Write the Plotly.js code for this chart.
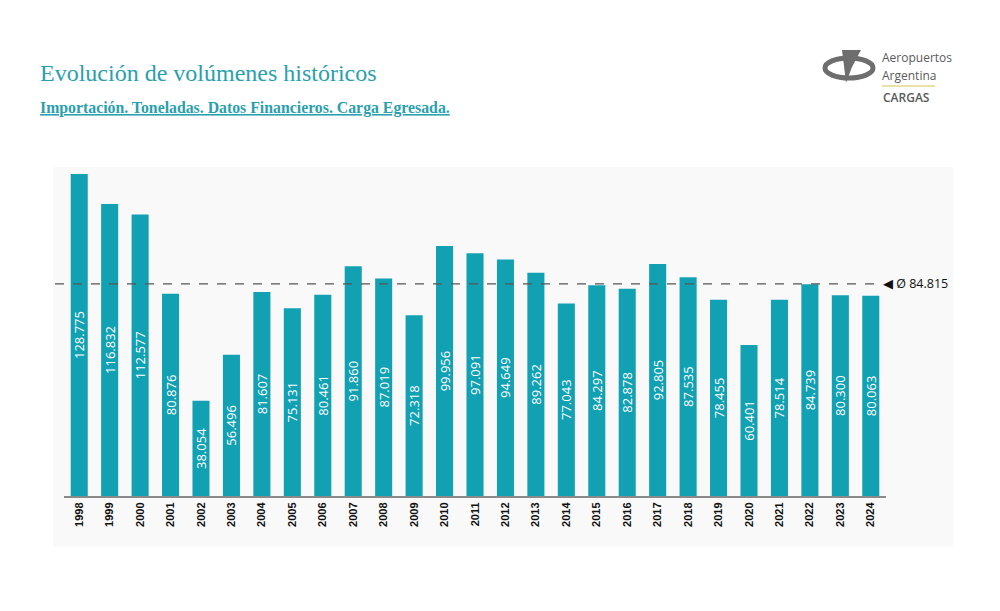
<!DOCTYPE html>
<html>
<head>
<meta charset="utf-8">
<script src="https://cdn.plot.ly/plotly-3.0.1.min.js"></script>
<style>html,body{margin:0;padding:0;background:#fff;}#chart{width:1000px;height:611px;}</style>
</head>
<body>
<div id="chart"></div>
<script>
const years = ['1998','1999','2000','2001','2002','2003','2004','2005','2006','2007','2008','2009','2010','2011','2012','2013','2014','2015','2016','2017','2018','2019','2020','2021','2022','2023','2024'];
const tonnes = [128775,116832,112577,80876,38054,56496,81607,75131,80461,91860,87019,72318,99956,97091,94649,89262,77043,84297,82878,92805,87535,78455,60401,78514,84739,80300,80063];
const titleText = 'Evolución de volúmenes históricos';
const subtitleText = 'Importación. Toneladas. Datos Financieros. Carga Egresada.';

const avg = tonnes.reduce((a,b)=>a+b,0)/tonnes.length;
const avgLabel = '◀ Ø ' + Math.round(avg).toString().replace(/\B(?=(\d{3})+(?!\d))/g,'.');

// pixel -> paper helpers for decorations
const L=64, R=886, T=171, B=496;
const px = x => (x-L)/(R-L);
const py = y => (B-y)/(B-T);

const teal = '#12a0b3';

const trace = {
  type:'bar', x: years, y: tonnes,
  marker:{color: teal, line:{width:0}},
  text: tonnes, texttemplate:'%{y:,.0f}',
  textposition:'inside', insidetextanchor:'middle', textangle:-90,
  insidetextfont:{family:'Open Sans, sans-serif', size:13, color:'#ffffff'},
  hoverinfo:'x+y', cliponaxis:false
};

const layout = {
  width:1000, height:611,
  margin:{l:L, r:1000-R, t:T, b:611-B},
  paper_bgcolor:'#ffffff', plot_bgcolor:'rgba(0,0,0,0)',
  separators:',.',
  bargap:0.44,
  uniformtext:{minsize:13, mode:'show'},
  showlegend:false,
  xaxis:{type:'category', showgrid:false, showline:true, linecolor:'#8a8a8a', linewidth:2,
    tickangle:-90, ticks:'', tickfont:{family:'Liberation Sans, Arial, sans-serif', size:11, color:'#111', weight:'bold'},
    range:[-0.5, years.length-0.5], fixedrange:true},
  yaxis:{visible:false, range:[0,130000], showgrid:false, zeroline:false, fixedrange:true},
  shapes:[
    {type:'rect', xref:'paper', yref:'paper', x0:px(53), x1:px(953), y0:py(547), y1:py(167),
      fillcolor:'#f9f9f9', line:{width:0}, layer:'below'},
    {type:'line', xref:'paper', yref:'y', x0:px(55), x1:px(880), y0:avg, y1:avg,
      line:{color:'#555555', width:1.3, dash:'dash'}, layer:'above'},
    // logo ring
    {type:'circle', xref:'paper', yref:'paper', x0:px(825), x1:px(873), y0:py(78), y1:py(58),
      line:{color:'#6e6e6e', width:5}, fillcolor:'rgba(0,0,0,0)'},
    // logo bolt
    {type:'path', xref:'paper', yref:'paper',
      path:'M '+px(842)+' '+py(50)+' L '+px(861)+' '+py(50)+' L '+px(852)+' '+py(67)+' L '+px(846)+' '+py(83)+' L '+px(844)+' '+py(66)+' Z',
      fillcolor:'#6e6e6e', line:{width:0}},
    {type:'line', xref:'paper', yref:'paper', x0:px(882), x1:px(935), y0:py(86), y1:py(86),
      line:{color:'#e0d98a', width:1.5}}
  ],
  annotations:[
    {xref:'paper', yref:'paper', x:px(38), y:py(73), xanchor:'left', yanchor:'middle', showarrow:false,
      text:titleText, font:{family:'Liberation Serif, Times New Roman, serif', size:24, color:'#2a9fad'}},
    {xref:'paper', yref:'paper', x:px(38), y:py(108), xanchor:'left', yanchor:'middle', showarrow:false,
      text:'<b><u>'+subtitleText+'</u></b>', font:{family:'Liberation Serif, Times New Roman, serif', size:15.8, color:'#2a9fad'}},
    {xref:'paper', yref:'y', x:px(881), y:avg, xanchor:'left', yanchor:'middle', showarrow:false,
      text:avgLabel, font:{family:'Open Sans, sans-serif', size:12.5, color:'#111'}},
    {xref:'paper', yref:'paper', x:px(881), y:py(66.5), xanchor:'left', yanchor:'bottom', showarrow:false,
      text:'Aeropuertos', font:{family:'Open Sans, sans-serif', size:12, color:'#5a5a5a'}, borderpad:0},
    {xref:'paper', yref:'paper', x:px(881), y:py(65.5), xanchor:'left', yanchor:'top', showarrow:false,
      text:'Argentina', font:{family:'Open Sans, sans-serif', size:12, color:'#5a5a5a'}, borderpad:0},
    {xref:'paper', yref:'paper', x:px(881), y:py(98), xanchor:'left', yanchor:'middle', showarrow:false,
      text:'CARGAS', font:{family:'Open Sans, sans-serif', size:12, color:'#5a5a5a', weight:600}}
  ]
};

Plotly.newPlot('chart', [trace], layout, {displayModeBar:false, staticPlot:true});
</script>
</body>
</html>
